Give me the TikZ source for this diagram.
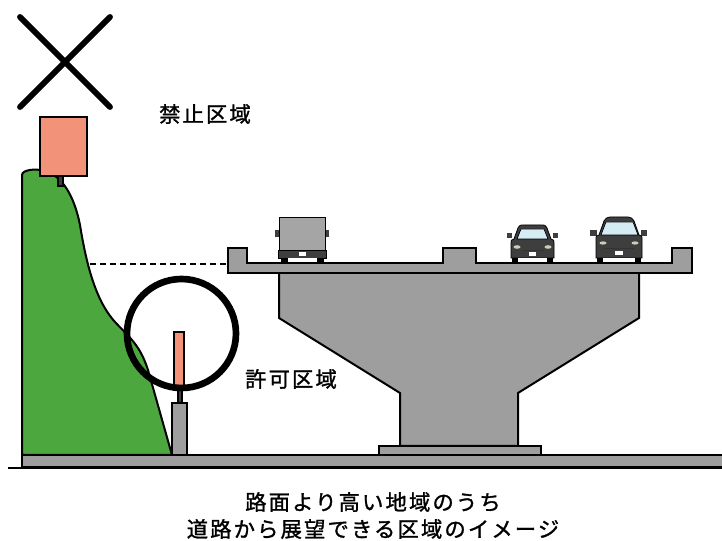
\documentclass[tikz,border=0pt]{standalone}
\usepackage{fontspec}
\newfontfamily\jp[LetterSpace=10,FakeBold=1.3]{Noto Sans CJK JP}
\definecolor{hillgreen}{RGB}{76,168,62}
\definecolor{salmon}{RGB}{242,146,120}
\definecolor{concrete}{RGB}{158,158,158}
\definecolor{truckgray}{RGB}{165,165,165}
\definecolor{bodydark}{RGB}{62,62,62}
\definecolor{glass}{RGB}{214,236,245}
\definecolor{lamp}{RGB}{205,205,190}
\begin{document}
\begin{tikzpicture}[x=0.75pt,y=-0.75pt,
  outline/.style={draw=black,line width=1.5pt,line join=miter},
  hill/.style={outline,fill=hillgreen},
  slab/.style={outline,fill=concrete},
  board/.style={outline,fill=salmon},
  vehicle/.style={draw=black,line width=0.6pt,fill=bodydark},
  label/.style={font=\jp\fontsize{16}{19}\selectfont,inner sep=0pt}]
\useasboundingbox (0,0) rectangle (722,541);
\fill[white] (0,0) rectangle (722,541);

% ground
\draw[slab] (22,455) rectangle (740,467);
\draw[line width=1.8pt] (8,468) -- (722,468);

% hillside
\draw[hill] (22,455) -- (22,175)
  .. controls (22,170) and (35,168) .. (45,171)
  .. controls (62,176) and (74,195) .. (80,225)
  .. controls (86,262) and (95,300) .. (115,322)
  .. controls (130,338) and (140,345) .. (148,370)
  -- (172,455) -- cycle;

% billboard on the hilltop
\draw[outline,fill=bodydark,line width=0.8pt] (58,176) rectangle (63,186);
\draw[board] (40,117) rectangle (87,176);

% small sign by the road
\draw[slab] (172,403) rectangle (187,455);
\draw[outline,fill=bodydark,line width=0.8pt] (178,390) rectangle (182,403);
\draw[board,line width=1.2pt] (174,332) rectangle (184,390);

% line of sight
\coordinate (sightA) at (90,264);
\coordinate (sightB) at (228,264);
\draw[line width=1.5pt,dash pattern=on 4.5pt off 3pt] (sightA) -- (sightB);

% viaduct pier and footing
\draw[slab] (279,273) -- (279,318) -- (400,393) -- (400,446)
  -- (518,446) -- (518,393) -- (639,318) -- (639,273);
\draw[slab] (379,446) rectangle (541,455);

% deck with curbs and median
\draw[slab] (228,248) -- (247,248) -- (247,263) -- (443,263) -- (443,248)
  -- (476,248) -- (476,263) -- (672,263) -- (672,248) -- (692,248)
  -- (692,273) -- (228,273) -- cycle;

% truck
\fill[bodydark] (275,230) rectangle (280,237);
\fill[bodydark] (324,230) rectangle (329,237);
\draw[draw=black,line width=0.6pt,fill=truckgray] (279,217) rectangle (325,250);
\draw[vehicle] (278,250) rectangle (326,258);
\fill[white] (299,252) rectangle (306,256);
\fill[black] (281,258) rectangle (288,263);
\fill[black] (317,258) rectangle (324,263);
\fill[white] (288,258.5) rectangle (317,262);

% sedan
\fill[bodydark] (507,233) rectangle (512,238);
\fill[bodydark] (553,233) rectangle (558,238);
\draw[vehicle] (511,258) -- (511,243) .. controls (511,240) .. (514,239)
  -- (518,228) .. controls (520,225) .. (524,225) -- (541,225)
  .. controls (545,225) .. (547,228) -- (551,239)
  .. controls (554,240) .. (554,243) -- (554,258) -- cycle;
\draw[draw=black,line width=0.5pt,fill=glass] (517,239) -- (521,229) -- (544,229) -- (548,239) -- cycle;
\fill[lamp] (517,247) ellipse [x radius=3.5,y radius=1.8];
\fill[lamp] (548,247) ellipse [x radius=3.5,y radius=1.8];
\draw[black!80,line width=0.5pt] (522,250) -- (543,250);
\fill[white] (529,252) rectangle (536,256);
\fill[black] (512,258) rectangle (518,263);
\fill[black] (547,258) rectangle (553,263);
\fill[white] (518,258.5) rectangle (547,262);

% hatchback
\fill[bodydark] (590,230) rectangle (597,236);
\fill[bodydark] (641,230) rectangle (647,236);
\draw[vehicle] (596,258) -- (596,238) .. controls (596,236) .. (599,235)
  -- (604,221) .. controls (606,218) .. (610,217) -- (628,217)
  .. controls (632,218) .. (634,221) -- (639,235)
  .. controls (642,236) .. (642,238) -- (642,258) -- cycle;
\draw[draw=black,line width=0.5pt,fill=glass] (601,235) -- (606,222) -- (633,222) -- (638,235) -- cycle;
\fill[lamp] (603,243) ellipse [x radius=3.5,y radius=1.6];
\fill[lamp] (635,243) ellipse [x radius=3.5,y radius=1.6];
\draw[black!80,line width=0.5pt] (604,248) -- (634,248);
\fill[white] (615,251) rectangle (623,255);
\fill[black] (597,258) rectangle (603,263);
\fill[black] (635,258) rectangle (641,263);
\fill[white] (603,258.5) rectangle (635,262);

% markers: prohibited and permitted
\draw[line width=4.4pt,line cap=round] (20,17) -- (110,107);
\draw[line width=4.4pt,line cap=round] (110,17) -- (20,107);
\draw[line width=5pt] (181.5,333.5) circle [radius=54.5];

% labels
\node[label] (banned) at (205,114) {禁止区域};
\node[label] (allowed) at (291,379) {許可区域};
\node[label] (cap1) at (373,502) {路面より高い地域のうち};
\node[label] (cap2) at (373,529) {道路から展望できる区域のイメージ};
\end{tikzpicture}
\end{document}
